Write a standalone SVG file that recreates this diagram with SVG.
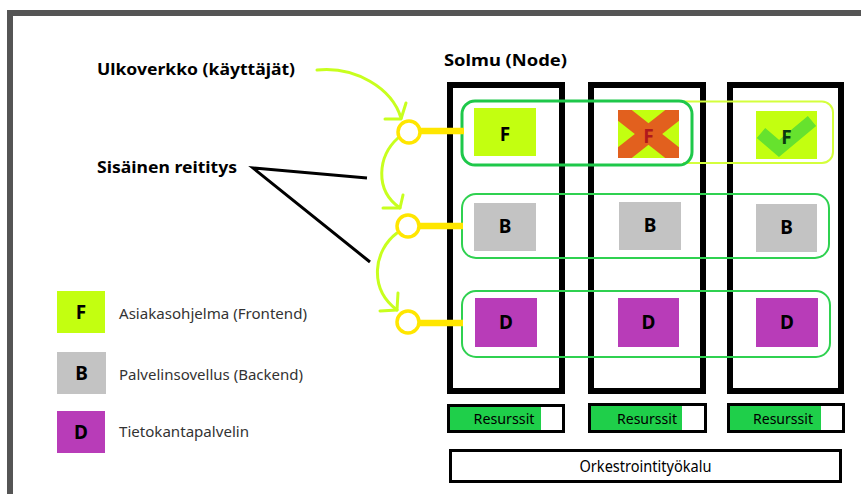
<svg xmlns="http://www.w3.org/2000/svg" width="861" height="494" viewBox="0 0 861 494">
<style>
text{font-family:"Noto Sans","Open Sans","Liberation Sans",sans-serif;fill:#000}
.b{font-weight:bold}
.lbl{font-size:16.5px;font-weight:bold}
.ltr{font-size:19px;font-weight:bold;text-anchor:middle}
.leg{font-size:15px;fill:#333}
.node{fill:none;stroke:#000;stroke-width:6}
.row{fill:none;stroke:#2fd150;stroke-width:2}
.fr{fill:#c3ff10}
.br{fill:#c3c3c3}
.dr{fill:#b83cb8}
.arr{fill:none;stroke:#c8ff1e;stroke-width:3;stroke-linecap:round;stroke-linejoin:round}
.yc{fill:#fff;stroke:#ffe600;stroke-width:3.5}
.yl{stroke:#ffe600;stroke-width:6.5}
.bar{fill:#fff;stroke:#000;stroke-width:3}
.barg{fill:#1fcf4a}
.res{font-size:15px;text-anchor:middle}
</style>
<defs>
<clipPath id="cx"><rect x="618" y="110" width="61" height="48"/></clipPath>
</defs>
<rect width="861" height="494" fill="#fff"/>
<g id="frame" fill="#555">
<rect x="7" y="10" width="854" height="6"/>
<rect x="7" y="10" width="6" height="484"/>
</g>
<g id="titles">
<text class="lbl" x="444" y="66" textLength="123" lengthAdjust="spacingAndGlyphs">Solmu (Node)</text>
<text class="lbl" x="97" y="75" textLength="198" lengthAdjust="spacingAndGlyphs">Ulkoverkko (käyttäjät)</text>
<text class="lbl" x="97" y="173" textLength="140" lengthAdjust="spacingAndGlyphs">Sisäinen reititys</text>
</g>
<g id="nodes">
<rect id="node1" class="node" x="450" y="85" width="112" height="306"/>
<rect id="node2" class="node" x="591" y="85" width="112" height="306"/>
<rect id="node3" class="node" x="730" y="85" width="111" height="306"/>
</g>
<g id="rows">
<path id="row-f-light" d="M683 101.5H822A11 11 0 0 1 833 112.5V152A11 11 0 0 1 822 163H683" fill="none" stroke="#d4ff3c" stroke-width="2"/>
<rect id="row-f" x="462" y="101" width="230" height="64" rx="13" fill="none" stroke="#1ec84a" stroke-width="3"/>
<rect id="row-b" class="row" x="462" y="194" width="367" height="64" rx="14"/>
<rect id="row-d" class="row" x="462" y="291" width="368" height="66" rx="14"/>
</g>
<g id="f1"><rect class="fr" x="474" y="108" width="62" height="48"/><text class="ltr" x="505" y="141">F</text></g>
<g id="f2"><rect class="fr" x="618" y="110" width="61" height="48"/>
<g clip-path="url(#cx)" stroke="#e2601e" stroke-width="17"><line x1="618" y1="110" x2="679" y2="158"/><line x1="679" y1="110" x2="618" y2="158"/></g>
<text class="ltr" x="648.5" y="143" style="fill:#b0181c">F</text></g>
<g id="f3"><rect class="fr" x="756" y="111" width="61" height="48"/>
<polyline points="761,133 779,148.5 812,121" fill="none" stroke="#66e22e" stroke-width="13" stroke-linejoin="miter" stroke-linecap="butt"/>
<text class="ltr" x="786.5" y="144" style="fill:#0b3a10">F</text></g>
<g id="b1"><rect class="br" x="474" y="203" width="62" height="48"/><text class="ltr" x="505" y="233">B</text></g>
<g id="b2"><rect class="br" x="619" y="202" width="62" height="48"/><text class="ltr" x="650" y="232">B</text></g>
<g id="b3"><rect class="br" x="756" y="204" width="61" height="48"/><text class="ltr" x="786.5" y="234">B</text></g>
<g id="d1"><rect class="dr" x="475" y="298" width="62" height="49"/><text class="ltr" x="506" y="329">D</text></g>
<g id="d2"><rect class="dr" x="618" y="298" width="61" height="49"/><text class="ltr" x="648.5" y="329">D</text></g>
<g id="d3"><rect class="dr" x="756" y="298" width="62" height="49"/><text class="ltr" x="787" y="329">D</text></g>
<g id="connectors">
<path class="arr" d="M317 70C355 66 392 88 401 118"/>
<polyline class="arr" points="385,119 401,119 406,103"/>
<path class="arr" d="M398 138C378 156 374 190 400 208"/>
<polyline class="arr" points="383,208 400,208 403,195"/>
<path class="arr" d="M397 233C374 250 368 288 397 310"/>
<polyline class="arr" points="380,311 397,310 398,293"/>
<path d="M367 178L253 168L370 262" fill="none" stroke="#000" stroke-width="3" stroke-linejoin="miter"/>
<line class="yl" x1="418" y1="131" x2="464" y2="131"/>
<line class="yl" x1="418" y1="226" x2="463" y2="226"/>
<line class="yl" x1="418" y1="323" x2="463" y2="323"/>
</g>
<g id="routers">
<circle class="yc" cx="409" cy="132" r="11"/>
<circle class="yc" cx="408" cy="226" r="11"/>
<circle class="yc" cx="408" cy="322" r="11"/>
</g>
<g id="legend">
<g id="leg-f"><rect class="fr" x="57" y="291" width="48" height="42"/><text class="ltr" x="81" y="319">F</text><text class="leg" x="119" y="319" textLength="188" lengthAdjust="spacingAndGlyphs">Asiakasohjelma (Frontend)</text></g>
<g id="leg-b"><rect class="br" x="57" y="352" width="49" height="42"/><text class="ltr" x="81.5" y="380">B</text><text class="leg" x="119" y="380" textLength="184" lengthAdjust="spacingAndGlyphs">Palvelinsovellus (Backend)</text></g>
<g id="leg-d"><rect class="dr" x="57" y="411" width="48" height="42"/><text class="ltr" x="81" y="439">D</text><text class="leg" x="119" y="437" textLength="130" lengthAdjust="spacingAndGlyphs">Tietokantapalvelin</text></g>
</g>
<g id="resources">
<g id="res1"><rect class="bar" x="448.5" y="405.5" width="115" height="26"/><rect class="barg" x="450" y="407" width="91" height="23"/><text class="res" x="504" y="424" textLength="61" lengthAdjust="spacingAndGlyphs">Resurssit</text></g>
<g id="res2"><rect class="bar" x="589.5" y="404.5" width="116" height="27"/><rect class="barg" x="591" y="406" width="91" height="24"/><text class="res" x="647" y="424" textLength="60" lengthAdjust="spacingAndGlyphs">Resurssit</text></g>
<g id="res3"><rect class="bar" x="728.5" y="404.5" width="115" height="27"/><rect class="barg" x="730" y="406" width="91" height="24"/><text class="res" x="783" y="424" textLength="60" lengthAdjust="spacingAndGlyphs">Resurssit</text></g>
</g>
<g id="orchestrator"><rect x="450.5" y="450.5" width="390" height="31" fill="#fff" stroke="#000" stroke-width="3"/><text x="645.5" y="472" font-size="16" text-anchor="middle" textLength="132" lengthAdjust="spacingAndGlyphs">Orkestrointityökalu</text></g>
</svg>
